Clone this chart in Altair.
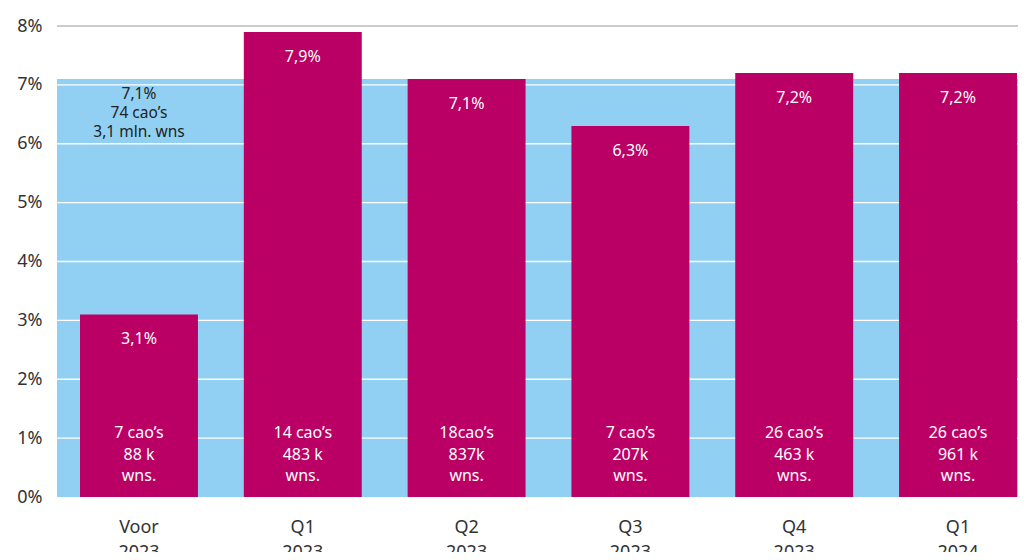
import altair as alt
import pandas as pd

periods = ["Voor 2023", "Q1 2023", "Q2 2023", "Q3 2023", "Q4 2023", "Q1 2024"]
values = [3.1, 7.9, 7.1, 6.3, 7.2, 7.2]
value_labels = ["3,1%", "7,9%", "7,1%", "6,3%", "7,2%", "7,2%"]
cao_labels = ["7 cao’s", "14 cao’s", "18cao’s", "7 cao’s", "26 cao’s", "26 cao’s"]
worker_labels = ["88 k", "483 k", "837k", "207k", "463 k", "961 k"]
overall_value = 7.1
overall_label = "7,1%\n74 cao’s\n3,1 mln. wns"
y_ticks = [0, 1, 2, 3, 4, 5, 6, 7, 8]

FONT = "Noto Sans"
MAGENTA = "#BA0064"
BLUE = "#91D0F2"
W, H = 961, 471

df = pd.DataFrame({
    "period": periods,
    "value": values,
    "vlabel": value_labels,
    "bottom": [c + "\n" + w + "\nwns." for c, w in zip(cao_labels, worker_labels)],
    "zero": [0] * len(periods),
})

xscale = alt.Scale(domain=periods, paddingInner=0.28, paddingOuter=0.0733, align=0.958)
yscale = alt.Scale(domain=[0, 8], nice=False)

x_enc = alt.X("period:N", scale=xscale, sort=periods, title=None,
              axis=alt.Axis(labelExpr="split(datum.label, ' ')", labelFontSize=18,
                            labelColor="#333333", labelFont=FONT, labelLineHeight=25,
                            labelPadding=21, ticks=False, domain=False, labelAngle=0))

bg = alt.Chart(pd.DataFrame({"y0": [0], "y1": [overall_value]})).mark_rect(color=BLUE).encode(
    x=alt.value(0), x2=alt.value(W),
    y=alt.Y("y0:Q", scale=yscale, title=None,
            axis=alt.Axis(values=y_ticks, labelExpr="datum.value + '%'", labelFontSize=18,
                          labelColor="#333333", labelFont=FONT, labelPadding=15,
                          ticks=False, domain=False, grid=False)),
    y2="y1:Q",
)

grid_df = pd.DataFrame({"g": y_ticks[1:], "c": ["w"] * 7 + ["g"]})
grid = alt.Chart(grid_df).mark_rule(strokeWidth=1.3).encode(
    x=alt.value(0), x2=alt.value(W),
    y=alt.Y("g:Q", scale=yscale),
    color=alt.Color("c:N", scale=alt.Scale(domain=["w", "g"], range=["#ffffff", "#bbbbbb"]), legend=None),
)

base = alt.Chart(df)
bars = base.mark_bar(color=MAGENTA).encode(x=x_enc, y=alt.Y("value:Q", scale=yscale), y2="zero:Q")

vtext = base.mark_text(color="#ffffff", fontSize=16, font=FONT, baseline="middle", dy=25).encode(
    x=x_enc, y=alt.Y("value:Q", scale=yscale), text="vlabel:N")

btext = base.mark_text(color="#ffffff", fontSize=16, font=FONT, baseline="middle",
                       lineBreak="\n", lineHeight=21.5, dy=-64).encode(
    x=x_enc, y=alt.Y("zero:Q", scale=yscale), text="bottom:N")

otext = alt.Chart(pd.DataFrame({"period": [periods[0]], "v": [overall_value], "t": [overall_label]})).mark_text(
    color="#222222", fontSize=15.5, font=FONT, baseline="middle", lineBreak="\n", lineHeight=19, dy=15
).encode(x=x_enc, y=alt.Y("v:Q", scale=yscale), text="t:N")

chart = alt.layer(bg, grid, bars, vtext, btext, otext).properties(
    width=W, height=H,
    autosize=alt.AutoSizeParams(type="none"),
    padding={"left": 49, "top": 18, "right": 0, "bottom": 55},
).configure_view(stroke=None)

chart.save("out.html", embed_options={"renderer": "svg", "actions": False})
